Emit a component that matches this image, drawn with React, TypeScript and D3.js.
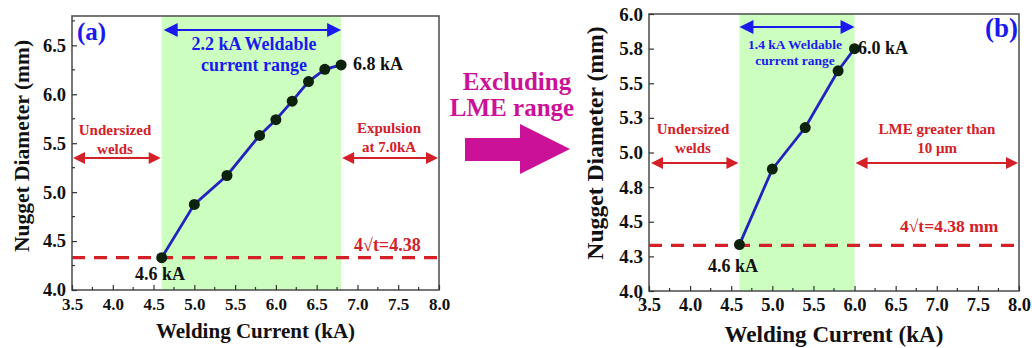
import React, { useEffect, useRef } from "react";
import * as d3 from "d3";

// ---------- data ----------
const currentA = [4.6, 5.0, 5.4, 5.8, 6.0, 6.2, 6.4, 6.6, 6.8];
const diameterA = [4.33, 4.875, 5.17, 5.58, 5.74, 5.93, 6.13, 6.255, 6.3];
const currentB = [4.6, 5.0, 5.4, 5.8, 6.0];
const diameterB = [4.335, 4.88, 5.18, 5.59, 5.75];
const xTicks = [3.5, 4.0, 4.5, 5.0, 5.5, 6.0, 6.5, 7.0, 7.5, 8.0];
const yTicksA = [4.0, 4.5, 5.0, 5.5, 6.0, 6.5];
const yTicksB = [4.0, 4.25, 4.5, 4.75, 5.0, 5.25, 5.5, 5.75, 6.0];
const criticalLine = 4.33;
const weldableA = [4.6, 6.8];
const weldableB = [4.6, 6.0];

const FONT = "Liberation Serif";
const RED = "#d42027";
const BLUE = "#1a1aee";
const GREEN = "#ccffbf";
const MAGENTA = "#cc1199";

function DoubleArrow({ xa, xb, y, color, head = 12, hw = 6, sw = 2 }: any) {
  return (
    <g>
      <line x1={xa + head - 1} x2={xb - head + 1} y1={y} y2={y} stroke={color} strokeWidth={sw} />
      <path d={`M${xa},${y} L${xa + head},${y - hw} L${xa + head},${y + hw} Z`} fill={color} />
      <path d={`M${xb},${y} L${xb - head},${y - hw} L${xb - head},${y + hw} Z`} fill={color} />
    </g>
  );
}

function Axes({ x, y, yTicks, yMinor, xfs, yfs, xpad }: any) {
  const bRef = useRef<SVGGElement>(null);
  const lRef = useRef<SVGGElement>(null);
  useEffect(() => {
    const xMinor = d3.range(3.75, 8.0, 0.5);
    const b = d3.select(bRef.current);
    b.selectAll("*").remove();
    b.call(d3.axisBottom(x).tickValues(xTicks).tickSize(-5).tickPadding(xpad).tickFormat(d3.format(".1f")) as any);
    b.append("g").selectAll("line").data(xMinor).join("line")
      .attr("x1", (d: number) => x(d)).attr("x2", (d: number) => x(d))
      .attr("y1", 0).attr("y2", -3).attr("stroke", "#333").attr("stroke-width", 1.2);
    const l = d3.select(lRef.current);
    l.selectAll("*").remove();
    l.call(d3.axisLeft(y).tickValues(yTicks).tickSize(-5).tickPadding(6).tickFormat(d3.format(".1f")) as any);
    l.append("g").selectAll("line").data(yMinor).join("line")
      .attr("y1", (d: number) => y(d)).attr("y2", (d: number) => y(d))
      .attr("x1", 0).attr("x2", 3).attr("stroke", "#333").attr("stroke-width", 1.2);
    [b, l].forEach((g, k) => {
      const fs = k === 0 ? xfs : yfs;
      g.attr("font-family", FONT).attr("font-size", fs).attr("font-weight", "bold");
      g.select(".domain").remove();
      g.selectAll(".tick line").attr("stroke", "#333").attr("stroke-width", 1.2);
      g.selectAll(".tick text")
        .style("font-family", FONT).style("font-weight", "bold")
        .style("font-size", `${fs}px`).attr("fill", "#111");
    });
  }, [x, y]);
  return (
    <g>
      <g ref={bRef} transform={`translate(0,${y.range()[0]})`} />
      <g ref={lRef} transform={`translate(${x.range()[0]},0)`} />
    </g>
  );
}

function T(props: any) {
  const { children, ...rest } = props;
  return <text fontFamily={FONT} fontWeight="bold" {...rest}>{children}</text>;
}

function Panel(p: any) {
  const x = d3.scaleLinear().domain([3.5, 8.0]).range([p.x0, p.x1]);
  const y = d3.scaleLinear().domain(p.yDomain).range([p.y1, p.y0]);
  const line = d3.line<number>().x((_, i) => x(p.xs[i])).y((d) => y(d));
  const s = p.s;
  const cx = (p.x0 + p.x1) / 2;
  const a = p.which === "a";
  return (
    <g>
      <rect x={x(p.weld[0])} y={p.y0} width={x(p.weld[1]) - x(p.weld[0])} height={p.y1 - p.y0} fill={GREEN} />
      <line x1={p.x0} x2={p.x1} y1={y(criticalLine)} y2={y(criticalLine)} stroke={RED} strokeWidth={3.2} strokeDasharray="13,9" />
      <path d={line(p.ys) || ""} fill="none" stroke="#2323c0" strokeWidth={2.8} />
      {p.ys.map((d: number, i: number) => (
        <circle key={i} cx={x(p.xs[i])} cy={y(d)} r={5.5} fill="#0c220c" />
      ))}
      <rect x={p.x0} y={p.y0} width={p.x1 - p.x0} height={p.y1 - p.y0} fill="none" stroke="#555" strokeWidth={1.6} />
      <Axes x={x} y={y} yTicks={p.yTicks} yMinor={p.yMinor} xfs={a ? 17 : 18.5} yfs={a ? 18.5 : 19} xpad={a ? 8 : 7} />
      <T x={cx} y={a ? 338 : 342} textAnchor="middle" fontSize={21 * s} fill="#111">Welding Current (kA)</T>
      <T transform={`translate(${a ? 29 : 603},${a ? 146 : 143}) rotate(-90)`} textAnchor="middle" fontSize={21.5 * s} fill="#111">Nugget Diameter (mm)</T>
      {a ? (
        <g>
          <T x={77} y={40} fontSize={25} fill={BLUE}>(a)</T>
          <DoubleArrow xa={x(4.6) + 2} xb={x(6.8)} y={30} color={BLUE} head={14} hw={7} sw={2.2} />
          <T x={254} y={50} textAnchor="middle" fontSize={18} fill={BLUE}>2.2 kA Weldable</T>
          <T x={254} y={71} textAnchor="middle" fontSize={18} fill={BLUE}>current range</T>
          <T x={353} y={70} fontSize={18} fill="#111">6.8 kA</T>
          <T x={115} y={135} textAnchor="middle" fontSize={15} fill={RED}>Undersized</T>
          <T x={115} y={154} textAnchor="middle" fontSize={15} fill={RED}>welds</T>
          <DoubleArrow xa={p.x0 + 1} xb={x(4.6) - 1} y={158} color={RED} />
          <T x={389} y={133} textAnchor="middle" fontSize={15} fill={RED}>Expulsion</T>
          <T x={389} y={152} textAnchor="middle" fontSize={15} fill={RED}>at 7.0kA</T>
          <DoubleArrow xa={x(6.8) + 1} xb={p.x1 - 1} y={158} color={RED} />
          <T x={354} y={251} fontSize={18} fill={RED}>4√t=4.38</T>
          <T x={160} y={280} textAnchor="middle" fontSize={18} fill="#111">4.6 kA</T>
        </g>
      ) : (
        <g>
          <T x={985} y={37} fontSize={27} fill={BLUE}>(b)</T>
          <DoubleArrow xa={x(4.6)} xb={x(6.0)} y={27} color={BLUE} head={14} hw={7} sw={2.2} />
          <T x={795} y={49} textAnchor="middle" fontSize={13.5} fill={BLUE}>1.4 kA Weldable</T>
          <T x={795} y={65} textAnchor="middle" fontSize={13.5} fill={BLUE}>current range</T>
          <T x={858} y={54} fontSize={18} fill="#111">6.0 kA</T>
          <T x={693} y={134} textAnchor="middle" fontSize={15} fill={RED}>Undersized</T>
          <T x={693} y={153} textAnchor="middle" fontSize={15} fill={RED}>welds</T>
          <DoubleArrow xa={p.x0 + 2} xb={x(4.6) - 1} y={163} color={RED} />
          <T x={937} y={134} textAnchor="middle" fontSize={15} fill={RED}>LME greater than</T>
          <T x={937} y={153} textAnchor="middle" fontSize={15} fill={RED}>10 μm</T>
          <DoubleArrow xa={x(6.0) + 1} xb={p.x1 - 1} y={163} color={RED} />
          <T x={900} y={232} fontSize={17.5} fill={RED}>4√t=4.38 mm</T>
          <T x={733} y={272} textAnchor="middle" fontSize={18} fill="#111">4.6 kA</T>
        </g>
      )}
    </g>
  );
}

export default function App() {
  const minorA = d3.range(4.25, 6.8, 0.5);
  return (
    <svg width={1032} height={348} style={{ position: "absolute", left: 0, top: 0, background: "#fff" }} fontFamily={FONT}>
      <rect width={1032} height={348} fill="#fff" />
      <Panel which="a" x0={72} x1={439} y0={16} y1={290} yDomain={[4.0, 6.8]}
        yTicks={yTicksA} yMinor={minorA} xs={currentA} ys={diameterA} weld={weldableA} s={1} />
      <Panel which="b" x0={649} x1={1019} y0={14} y1={291} yDomain={[4.0, 6.0]}
        yTicks={yTicksB} yMinor={[]} xs={currentB} ys={diameterB} weld={weldableB} s={1.1} />
      <T x={517} y={90} textAnchor="middle" fontSize={25} fill={MAGENTA}>Excluding</T>
      <T x={512} y={116} textAnchor="middle" fontSize={25} fill={MAGENTA}>LME range</T>
      <path d="M465,138 L520,138 L520,124 L570,149 L520,174 L520,161 L465,161 Z" fill={MAGENTA} />
    </svg>
  );
}
